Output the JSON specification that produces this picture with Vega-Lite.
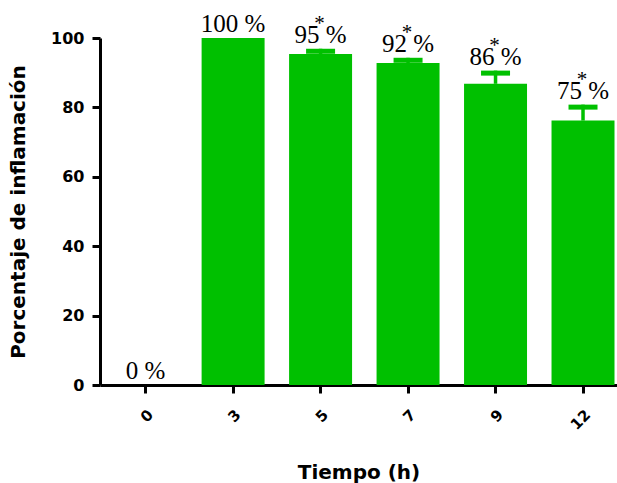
{
  "$schema": "https://vega.github.io/schema/vega-lite/v6.json",
  "autosize": "none",
  "width": 517,
  "height": 347,
  "padding": {"left": 100, "top": 38, "right": 0, "bottom": 98},
  "background": "white",
  "config": {
    "view": {"stroke": null},
    "axis": {
      "domainColor": "black", "domainWidth": 3, "tickColor": "black", "tickWidth": 3, "tickSize": 8,
      "labelFont": "DejaVu Sans", "labelFontWeight": "bold", "labelFontSize": 16, "labelColor": "black",
      "titleFont": "DejaVu Sans", "titleFontWeight": "bold", "titleFontSize": 19, "titleColor": "black",
      "grid": false
    }
  },
  "data": {
    "values": [
      {"t": "0", "v": 0, "e": 0, "lab": "0 %", "star": ""},
      {"t": "3", "v": 100, "e": 100, "lab": "100 %", "star": ""},
      {"t": "5", "v": 95.4, "e": 96.9, "lab": "95 %", "star": "*"},
      {"t": "7", "v": 92.8, "e": 94.3, "lab": "92 %", "star": "*"},
      {"t": "9", "v": 86.8, "e": 90.6, "lab": "86 %", "star": "*"},
      {"t": "12", "v": 76.2, "e": 80.8, "lab": "75 %", "star": "*"}
    ]
  },
  "encoding": {
    "x": {
      "field": "t", "type": "nominal", "sort": null,
      "scale": {"paddingInner": 0.28, "paddingOuter": 0.095, "align": 0.85},
      "axis": {"title": "Tiempo (h)", "labelAngle": -45, "labelPadding": 14, "labelFontSize": 15, "titlePadding": 30, "titleFontSize": 20}
    }
  },
  "layer": [
    {
      "mark": {"type": "bar", "color": "#00c000", "clip": false},
      "encoding": {
        "y": {"field": "v", "type": "quantitative", "scale": {"domain": [0, 100]},
          "axis": {"title": "Porcentaje de inflamación", "values": [0, 20, 40, 60, 80, 100], "labelPadding": 8, "titlePadding": 22, "titleFontSize": 20}}
      }
    },
    {
      "transform": [{"filter": "datum.e > datum.v"}],
      "mark": {"type": "rule", "color": "#00c000", "strokeWidth": 3.5, "clip": false},
      "encoding": {"y": {"field": "v", "type": "quantitative"}, "y2": {"field": "e"}}
    },
    {
      "transform": [{"filter": "datum.e > datum.v"}],
      "mark": {"type": "tick", "color": "#00c000", "size": 29, "thickness": 5, "yOffset": 2.5, "opacity": 1, "clip": false},
      "encoding": {"y": {"field": "e", "type": "quantitative"}}
    },
    {
      "mark": {"type": "text", "font": "Liberation Serif", "fontSize": 25, "baseline": "alphabetic", "dy": -6, "color": "black", "clip": false},
      "encoding": {"y": {"field": "e", "type": "quantitative"}, "text": {"field": "lab"}}
    },
    {
      "transform": [{"filter": "datum.star == '*'"}],
      "mark": {"type": "text", "font": "Liberation Serif", "fontSize": 21, "baseline": "alphabetic", "dy": -19, "dx": -1, "color": "black", "clip": false},
      "encoding": {"y": {"field": "e", "type": "quantitative"}, "text": {"field": "star"}}
    }
  ]
}
